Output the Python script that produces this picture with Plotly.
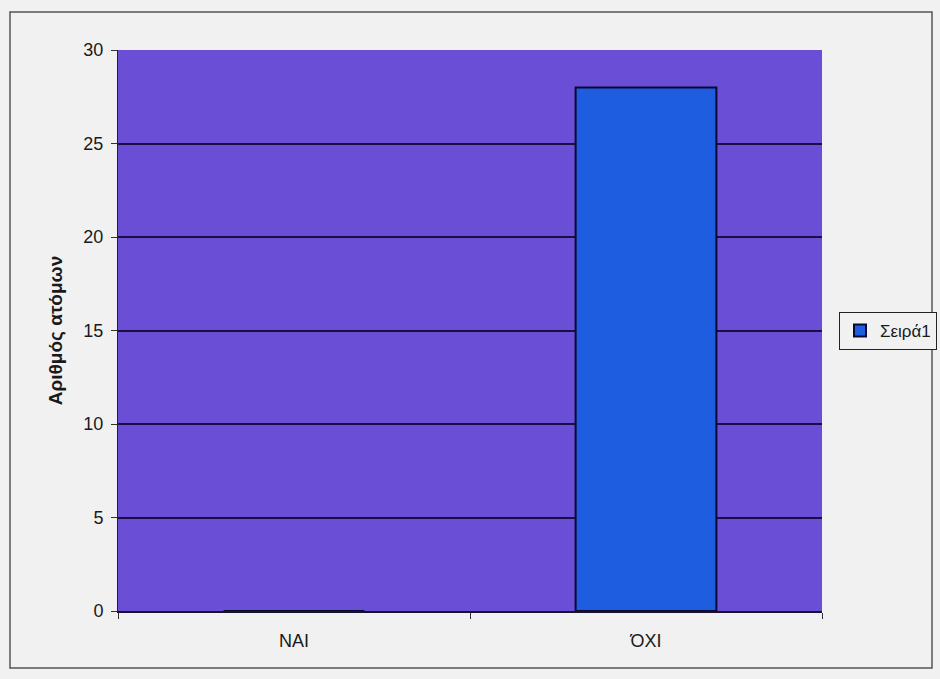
import plotly.graph_objects as go

categories = ["ΝΑΙ", "ΌΧΙ"]
values = [0, 28]
series_name = "Σειρά1"
y_ticks = [0, 5, 10, 15, 20, 25, 30]

fig = go.Figure()
fig.add_trace(go.Bar(
    x=categories, y=values, name=series_name,
    marker=dict(color="#1e5ce0", line=dict(color="#0a0a30", width=2)),
    width=0.4, showlegend=True,
))

W, H = 940, 679
l, r, t, b = 118, 118, 50, 68
pw, ph = W - l - r, H - t - b

def px(x):
    return (x - l) / pw

def py(y):
    return (H - b - y) / ph

fig.update_layout(
    width=W, height=H,
    margin=dict(l=l, r=r, t=t, b=b, autoexpand=False),
    paper_bgcolor="#f1f1f1",
    plot_bgcolor="#6a4fd6",
    font=dict(family="Liberation Sans, Arial", size=18, color="#1a1a1a"),
    showlegend=True,
    legend=dict(
        x=px(839), y=py(331), xanchor="left", yanchor="middle",
        bgcolor="#f1f1f1", bordercolor="#222222", borderwidth=1,
        font=dict(size=17, color="#1a1a1a"), itemwidth=30,
    ),
    xaxis=dict(
        range=[-0.5, 1.5], showgrid=False, ticks="outside", tickson="boundaries",
        ticklen=6, tickcolor="#333333", showline=True, linecolor="#1a1030", linewidth=2,
        tickfont=dict(size=18), ticklabelstandoff=12,
    ),
    yaxis=dict(
        range=[0, 30], tickvals=y_ticks, showgrid=True, gridcolor="#1a1040", gridwidth=1.5,
        ticks="outside", ticklen=6, tickcolor="#333333", showline=True, linecolor="#222222",
        zeroline=False, tickfont=dict(size=18), ticklabelstandoff=4,
        title=dict(text="<b>Αριθμός ατόμων</b>", font=dict(size=19), standoff=15),
    ),
    shapes=[dict(
        type="rect", xref="paper", yref="paper",
        x0=px(10), x1=px(932), y0=py(668), y1=py(12),
        line=dict(color="#555555", width=1.5), layer="below",
    )],
)

fig.write_html("out.html")
